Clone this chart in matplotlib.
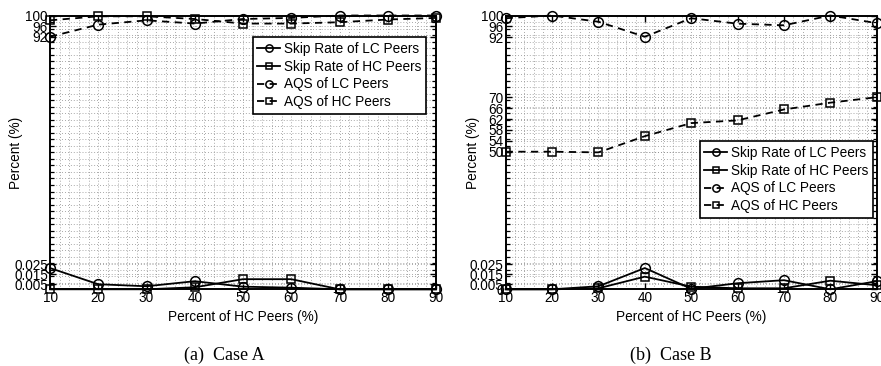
import numpy as np
import matplotlib
matplotlib.use('Agg')
import matplotlib.pyplot as plt
from matplotlib.ticker import FixedLocator, FixedFormatter, MultipleLocator

plt.rcParams['font.family'] = ['Liberation Sans', 'DejaVu Sans']

# ---------------- data ----------------
x = [10, 20, 30, 40, 50, 60, 70, 80, 90]

a_skip_lc = [0.021, 0.005, 0.003, 0.008, 0.0026, 0.0016, 0.0, 0.0, 0.0]
a_skip_hc = [0.0, 0.0, 0.0, 0.002, 0.010, 0.010, 0.0, 0.0, 0.0]
a_aqs_lc = [92.1, 96.6, 98.2, 97.0, 98.7, 99.1, 100.0, 100.0, 100.0]
a_aqs_hc = [98.2, 99.7, 99.7, 98.7, 97.0, 97.0, 97.5, 98.5, 99.1]

b_skip_lc = [0.0, 0.0, 0.003, 0.021, 0.0005, 0.006, 0.009, 0.0, 0.008]
b_skip_hc = [0.0, 0.0, 0.001, 0.0125, 0.0026, 0.001, 0.001, 0.0085, 0.004]
b_aqs_lc = [99.0, 100.0, 97.7, 92.2, 99.0, 97.0, 96.4, 100.0, 97.2]
b_aqs_hc = [50.0, 50.0, 49.7, 55.7, 60.5, 61.5, 65.5, 68.0, 70.0]

a_yticks = [0.005, 0.015, 0.025, 92, 96, 100]
a_yticklabels = ['0.005', '0.015', '0.025', '92', '96', '100']
b_yticks = [0, 0.005, 0.015, 0.025, 50, 54, 58, 62, 66, 70, 92, 96, 100]
b_yticklabels = ['0', '0.005', '0.015', '0.025', '50', '54', '58', '62', '66',
                 '70', '92', '96', '100']
xticks = [10, 20, 30, 40, 50, 60, 70, 80, 90]

legend_labels = ['Skip Rate of LC Peers', 'Skip Rate of HC Peers',
                 'AQS of LC Peers', 'AQS of HC Peers']

# piecewise-linear axis breakpoints (value -> position along axis)
a_break_vals = [0, 0.025, 92, 100]
a_break_pos = [0, 25.3, 252.3, 273.8]
b_break_vals = [0, 0.025, 50, 100]
b_break_pos = [0, 25.3, 137.6, 273.8]

W, H = 881, 366
fig = plt.figure(figsize=(W / 100, H / 100), dpi=100)

def px_axes(l, r, t, b):
    return fig.add_axes([l / W, 1 - b / H, (r - l) / W, (b - t) / H])

axA = px_axes(50, 436, 15.5, 289.3)
axB = px_axes(505.7, 876.7, 15.5, 289.3)

FS = 9.8

def setup(ax, bvals, bpos, yticks, ylabels, data, legpos, ylab_x):
    bvals = np.array(bvals, float)
    bpos = np.array(bpos, float)
    fwd = lambda y: np.interp(y, bvals, bpos)
    inv = lambda t: np.interp(t, bpos, bvals)
    ax.set_yscale('function', functions=(fwd, inv))
    ax.set_ylim(0, 100)
    ax.set_xlim(10, 90)

    sl, sh, al, ah = data
    lw = 1.3
    kw = dict(color='black', lw=lw, mfc='none', mec='black', mew=1.1,
              clip_on=False, zorder=5)
    h1, = ax.plot(x, sl, '-', marker='o', ms=7, **kw)
    h2, = ax.plot(x, sh, '-', marker='s', ms=6, **kw)
    h3, = ax.plot(x, al, '--', marker='o', ms=7, dashes=(4, 3), **kw)
    h4, = ax.plot(x, ah, '--', marker='s', ms=6, dashes=(4, 3), **kw)

    ax.set_xticks(xticks)
    ax.set_xticklabels([str(v) for v in xticks])
    ax.xaxis.set_minor_locator(MultipleLocator(2))
    ax.yaxis.set_major_locator(FixedLocator(yticks))
    ax.yaxis.set_major_formatter(FixedFormatter(ylabels))
    minor_t = np.linspace(0, bpos[-1], 43)
    ax.yaxis.set_minor_locator(FixedLocator(inv(minor_t)))

    ax.tick_params(axis='both', which='major', direction='in', length=4,
                   width=1, top=True, right=True, labelsize=FS, pad=1.5)
    ax.tick_params(axis='y', which='minor', direction='in', length=3,
                   width=0.9, left=True, right=True)
    ax.tick_params(axis='x', which='minor', length=0)
    ax.grid(True, which='both', linestyle=(0, (1, 2.5)), color='0.55',
            linewidth=0.6)
    ax.set_axisbelow(True)
    for s in ax.spines.values():
        s.set_linewidth(1.4)
        s.set_zorder(6)

    ax.set_xlabel('Percent of HC Peers (%)', fontsize=FS, labelpad=3.5)
    ax.set_ylabel('Percent (%)', fontsize=FS)
    ax.yaxis.set_label_coords(ylab_x, 0.5)

    leg = ax.legend([h1, h2, h3, h4], legend_labels, fontsize=FS,
                    loc='upper right', bbox_to_anchor=legpos,
                    bbox_transform=fig.transFigure, frameon=True,
                    fancybox=False, edgecolor='black', framealpha=1,
                    handlelength=1.7, handletextpad=0.25, borderpad=0.35,
                    labelspacing=0.28, borderaxespad=0, markerscale=0.75)
    leg.get_frame().set_linewidth(1.2)
    leg.set_zorder(10)

setup(axA, a_break_vals, a_break_pos, a_yticks, a_yticklabels,
      (a_skip_lc, a_skip_hc, a_aqs_lc, a_aqs_hc), (426 / W, 1 - 37 / H),
      (23 - 50) / 386)
setup(axB, b_break_vals, b_break_pos, b_yticks, b_yticklabels,
      (b_skip_lc, b_skip_hc, b_aqs_lc, b_aqs_hc), (873 / W, 1 - 141 / H),
      (480 - 505.7) / 371)

fig.text(224 / W, 1 - 355 / H, '(a)  Case A', ha='center', va='center',
         fontsize=13, family=['Liberation Serif', 'DejaVu Serif'])
fig.text(671 / W, 1 - 355 / H, '(b)  Case B', ha='center', va='center',
         fontsize=13, family=['Liberation Serif', 'DejaVu Serif'])

fig.savefig('out.png', dpi=100)
